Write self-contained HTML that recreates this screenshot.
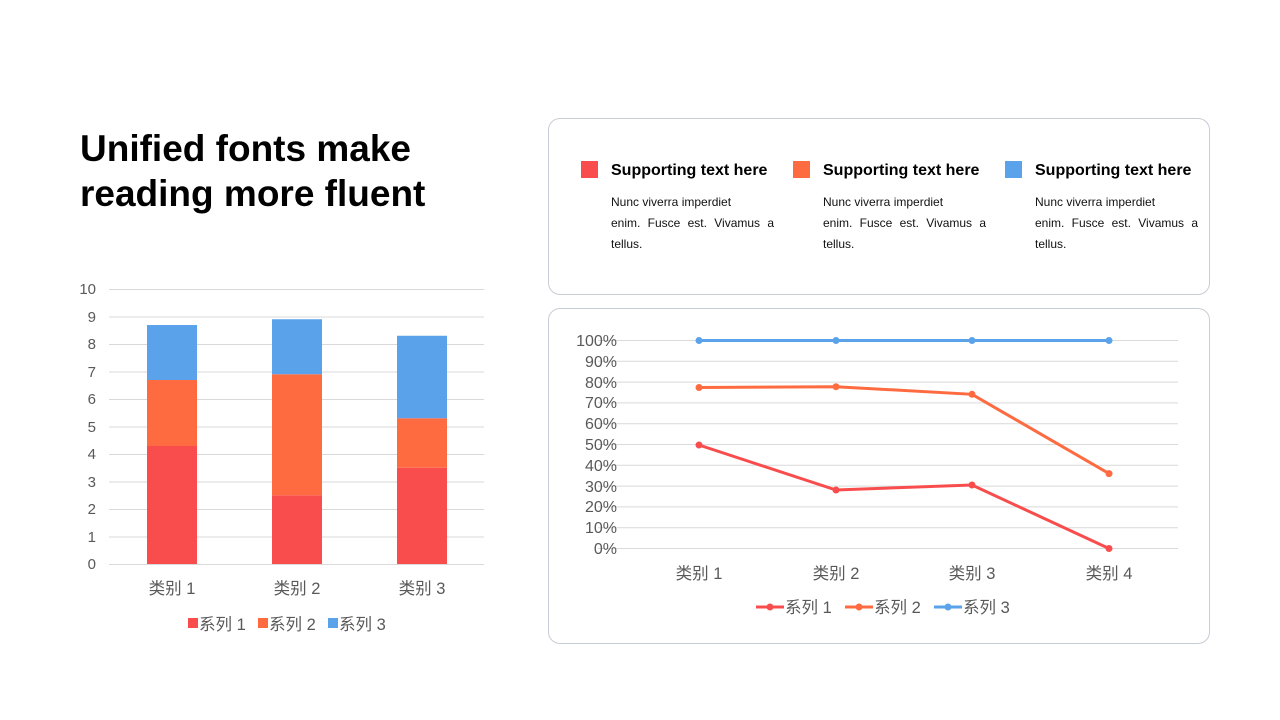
<!DOCTYPE html>
<html><head><meta charset="utf-8"><style>
body{margin:0;width:1280px;height:720px;background:#fff;position:relative;overflow:hidden;font-family:"Liberation Sans","Noto Sans CJK SC",sans-serif}
.t{position:absolute;left:80px;top:126px;font-size:37px;font-weight:bold;line-height:45px;color:#000}
.box{position:absolute;border:1.5px solid #c8ccd4;border-radius:12px;box-sizing:border-box}
.sq{position:absolute;width:17px;height:17px}
.h{position:absolute;font-size:16px;font-weight:bold;color:#000}
.p{position:absolute;font-size:12px;line-height:21px;color:#111;width:163px}
.p div{white-space:nowrap}
.p .j{text-align:justify;text-align-last:justify;white-space:normal}
</style></head><body>
<div class="t">Unified fonts make<br>reading more fluent</div>
<div class="box" style="left:548px;top:118px;width:662px;height:177px"></div>
<div class="box" style="left:548px;top:308px;width:662px;height:336px"></div>
<div class="sq" style="left:581px;top:161px;background:#f94d4d"></div>
<div class="sq" style="left:793px;top:161px;background:#ff6b40"></div>
<div class="sq" style="left:1005px;top:161px;background:#5aa2ea"></div>
<div class="h" style="left:611px;top:162px">Supporting text here</div>
<div class="h" style="left:823px;top:162px">Supporting text here</div>
<div class="h" style="left:1035px;top:162px">Supporting text here</div>
<div class="p" style="left:611px;top:192px"><div>Nunc viverra imperdiet</div><div class="j">enim. Fusce est. Vivamus a</div><div>tellus.</div></div>
<div class="p" style="left:823px;top:192px"><div>Nunc viverra imperdiet</div><div class="j">enim. Fusce est. Vivamus a</div><div>tellus.</div></div>
<div class="p" style="left:1035px;top:192px"><div>Nunc viverra imperdiet</div><div class="j">enim. Fusce est. Vivamus a</div><div>tellus.</div></div>
<svg width="1280" height="720" style="position:absolute;left:0;top:0" font-family="Liberation Sans,Noto Sans CJK SC,sans-serif" fill="#595959">
<g stroke="#d9d9d9" stroke-width="1">
<line x1="109" x2="484" y1="289.5" y2="289.5"/><line x1="109" x2="484" y1="317" y2="317"/><line x1="109" x2="484" y1="344.5" y2="344.5"/><line x1="109" x2="484" y1="372" y2="372"/><line x1="109" x2="484" y1="399.5" y2="399.5"/><line x1="109" x2="484" y1="427" y2="427"/><line x1="109" x2="484" y1="454.5" y2="454.5"/><line x1="109" x2="484" y1="482" y2="482"/><line x1="109" x2="484" y1="509.5" y2="509.5"/><line x1="109" x2="484" y1="537" y2="537"/><line x1="109" x2="484" y1="564.5" y2="564.5"/>
</g>
<g font-size="15" text-anchor="end">
<text x="96" y="294">10</text><text x="96" y="322">9</text><text x="96" y="349">8</text><text x="96" y="377">7</text><text x="96" y="404">6</text><text x="96" y="432">5</text><text x="96" y="459">4</text><text x="96" y="487">3</text><text x="96" y="514">2</text><text x="96" y="542">1</text><text x="96" y="569">0</text>
</g>
<rect x="147" y="445.75" width="50" height="118.25" fill="#f94d4d"/><rect x="147" y="380" width="50" height="66" fill="#ff6b40"/><rect x="147" y="325" width="50" height="55" fill="#5aa2ea"/>
<rect x="272" y="495.25" width="50" height="68.75" fill="#f94d4d"/><rect x="272" y="374.25" width="50" height="121" fill="#ff6b40"/><rect x="272" y="319.25" width="50" height="55" fill="#5aa2ea"/>
<rect x="397" y="467.75" width="50" height="96.25" fill="#f94d4d"/><rect x="397" y="418.25" width="50" height="49.5" fill="#ff6b40"/><rect x="397" y="335.75" width="50" height="82.5" fill="#5aa2ea"/>
<g font-size="16.5" text-anchor="middle"><text x="172" y="594">类别 1</text><text x="297" y="594">类别 2</text><text x="422" y="594">类别 3</text></g>
<g font-size="16.5">
<rect x="188" y="618" width="10" height="10" fill="#f94d4d"/><text x="199" y="630">系列 1</text>
<rect x="258" y="618" width="10" height="10" fill="#ff6b40"/><text x="269" y="630">系列 2</text>
<rect x="328" y="618" width="10" height="10" fill="#5aa2ea"/><text x="339" y="630">系列 3</text>
</g>
<g stroke="#d9d9d9" stroke-width="1">
<line x1="598" x2="1178" y1="340.5" y2="340.5"/><line x1="598" x2="1178" y1="361.3" y2="361.3"/><line x1="598" x2="1178" y1="382.1" y2="382.1"/><line x1="598" x2="1178" y1="402.9" y2="402.9"/><line x1="598" x2="1178" y1="423.7" y2="423.7"/><line x1="598" x2="1178" y1="444.5" y2="444.5"/><line x1="598" x2="1178" y1="465.3" y2="465.3"/><line x1="598" x2="1178" y1="486.1" y2="486.1"/><line x1="598" x2="1178" y1="506.9" y2="506.9"/><line x1="598" x2="1178" y1="527.7" y2="527.7"/><line x1="598" x2="1178" y1="548.5" y2="548.5"/>
</g>
<g font-size="16" text-anchor="end">
<text x="617" y="346">100%</text><text x="617" y="367">90%</text><text x="617" y="388">80%</text><text x="617" y="408">70%</text><text x="617" y="429">60%</text><text x="617" y="450">50%</text><text x="617" y="471">40%</text><text x="617" y="492">30%</text><text x="617" y="512">20%</text><text x="617" y="533">10%</text><text x="617" y="554">0%</text>
</g>
<g stroke-width="3" fill="none">
<polyline stroke="#f94d4d" points="699,445 836,490 972,485 1109,548.5"/>
<polyline stroke="#ff6b40" points="699,387.5 836,386.7 972,394.3 1109,473.6"/>
<polyline stroke="#5aa2ea" points="699,340.5 836,340.5 972,340.5 1109,340.5"/>
</g>
<g fill="#f94d4d"><circle cx="699" cy="445" r="3.5"/><circle cx="836" cy="490" r="3.5"/><circle cx="972" cy="485" r="3.5"/><circle cx="1109" cy="548.5" r="3.5"/></g>
<g fill="#ff6b40"><circle cx="699" cy="387.5" r="3.5"/><circle cx="836" cy="386.7" r="3.5"/><circle cx="972" cy="394.3" r="3.5"/><circle cx="1109" cy="473.6" r="3.5"/></g>
<g fill="#5aa2ea"><circle cx="699" cy="340.5" r="3.5"/><circle cx="836" cy="340.5" r="3.5"/><circle cx="972" cy="340.5" r="3.5"/><circle cx="1109" cy="340.5" r="3.5"/></g>
<g font-size="16.5" text-anchor="middle"><text x="699" y="579">类别 1</text><text x="836" y="579">类别 2</text><text x="972" y="579">类别 3</text><text x="1109" y="579">类别 4</text></g>
<g font-size="16.5">
<line x1="756" x2="784" y1="607" y2="607" stroke="#f94d4d" stroke-width="3"/><circle cx="770" cy="607" r="3.5" fill="#f94d4d"/><text x="785" y="613">系列 1</text>
<line x1="845" x2="873" y1="607" y2="607" stroke="#ff6b40" stroke-width="3"/><circle cx="859" cy="607" r="3.5" fill="#ff6b40"/><text x="874" y="613">系列 2</text>
<line x1="934" x2="962" y1="607" y2="607" stroke="#5aa2ea" stroke-width="3"/><circle cx="948" cy="607" r="3.5" fill="#5aa2ea"/><text x="963" y="613">系列 3</text>
</g>
</svg>
</body></html>
